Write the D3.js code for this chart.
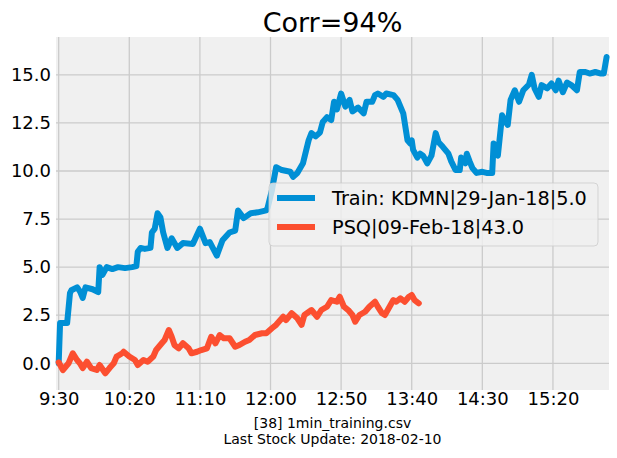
<!DOCTYPE html>
<html>
<head>
<meta charset="utf-8">
<script src="https://cdn.jsdelivr.net/npm/d3@7"></script>
<style>
  body { margin: 0; background: #ffffff; }
  text { font-family: "DejaVu Sans", sans-serif; }
</style>
</head>
<body>
<svg class="s"></svg>
<script>
// minutes after 9:30 and price change
var trainMin = [0, 1, 6, 8, 9, 13, 15, 17, 19, 24, 28, 29, 31, 34, 38, 42, 47, 52, 55, 56, 58, 61, 65, 66, 68, 70, 72, 74, 77, 80, 84, 88, 95, 100, 104, 107, 112, 116, 121, 125, 127, 131, 136, 141, 147, 148, 151, 154, 158, 164, 166, 169, 173, 177, 179, 182, 185, 187, 190, 193, 195, 197, 200, 203, 206, 208, 212, 216, 218, 222, 224, 226, 230, 232, 237, 240, 244, 247, 249, 250, 251, 254, 256, 258, 261, 264, 267, 269, 272, 276, 278, 281, 284, 285, 288, 289, 291, 293, 296, 300, 303, 307, 308, 311, 314, 316, 318, 320, 323, 326, 329, 333, 335, 337, 340, 342, 346, 349, 352, 354, 357, 360, 363, 367, 369, 373, 376, 380, 384, 386, 388];
var trainVal = [0.0, 2.1, 2.1, 3.65, 3.8, 3.95, 3.75, 3.4, 3.95, 3.85, 3.7, 5.0, 4.6, 5.0, 4.9, 5.0, 4.95, 5.0, 5.05, 5.8, 6.0, 5.95, 6.0, 6.8, 7.0, 7.8, 7.6, 6.8, 6.0, 6.5, 6.0, 6.25, 6.2, 7.0, 6.25, 6.3, 5.6, 6.4, 6.8, 6.9, 7.95, 7.55, 7.8, 7.85, 7.95, 8.1, 9.0, 10.2, 10.05, 9.96, 9.7, 9.9, 10.4, 11.6, 11.97, 11.8, 12.0, 12.55, 12.8, 12.65, 13.6, 13.2, 14.03, 13.35, 13.7, 13.1, 13.3, 13.0, 13.6, 13.6, 13.95, 14.03, 13.86, 14.03, 13.95, 13.7, 13.0, 11.6, 11.43, 11.6, 11.1, 10.7, 10.9, 10.8, 10.4, 10.8, 11.97, 11.5, 11.26, 10.9, 10.5, 10.05, 10.05, 10.7, 10.4, 10.9, 10.5, 10.15, 9.9, 9.96, 9.9, 9.9, 11.43, 10.8, 12.9, 12.6, 12.4, 13.7, 14.2, 13.6, 14.2, 14.5, 15.0, 14.3, 13.86, 14.47, 14.3, 14.55, 14.2, 14.7, 14.1, 14.6, 14.47, 14.2, 15.15, 15.15, 15.07, 15.15, 15.07, 15.07, 15.93];

var testMin = [0, 3, 7, 10, 13, 15, 17, 20, 23, 27, 29, 33, 36, 39, 41, 45, 46, 50, 54, 56, 60, 63, 67, 69, 73, 75, 78, 80, 82, 85, 88, 92, 94, 98, 101, 105, 108, 111, 114, 117, 121, 125, 128, 132, 135, 139, 144, 147, 151, 154, 159, 161, 165, 169, 172, 174, 179, 183, 186, 190, 193, 197, 199, 202, 205, 208, 210, 213, 217, 220, 224, 226, 229, 231, 235, 237, 239, 242, 245, 248, 250, 252, 255];
var testVal = [0.05, -0.35, 0.0, 0.52, 0.17, 0.0, -0.25, 0.08, -0.25, -0.35, -0.09, -0.52, -0.25, 0.0, 0.35, 0.52, 0.6, 0.35, 0.17, -0.09, 0.17, 0.08, 0.35, 0.69, 1.04, 1.21, 1.73, 1.38, 0.95, 0.78, 1.04, 0.78, 0.52, 0.6, 0.69, 0.78, 1.38, 1.04, 1.47, 1.3, 1.3, 0.86, 0.95, 1.12, 1.21, 1.47, 1.56, 1.56, 1.82, 2.0, 2.42, 2.25, 2.6, 2.34, 2.0, 2.51, 2.77, 2.42, 2.77, 2.94, 3.29, 3.2, 3.46, 2.94, 2.77, 2.51, 2.16, 2.51, 2.68, 2.94, 3.2, 2.94, 2.6, 2.51, 3.03, 3.29, 3.2, 3.38, 3.2, 3.46, 3.55, 3.29, 3.12];

var xTickMin = [0, 50, 100, 150, 200, 250, 300, 350];
var xTickLabels = ['9:30', '10:20', '11:10', '12:00', '12:50', '13:40', '14:30', '15:20'];
var yTicks = [0, 2.5, 5, 7.5, 10, 12.5, 15];

var seriesNames = ['Train: KDMN|29-Jan-18|5.0', 'PSQ|09-Feb-18|43.0'];
var seriesColors = ['#008fd5', '#fc4f30'];
var titleText = 'Corr=94%';
var footerLines = ['[38] 1min_training.csv', 'Last Stock Update: 2018-02-10'];

var w = 617;
var h = 458;
var plotL = 56, plotR = 609, plotT = 37, plotB = 390;

var svg = d3.select('.s')
            .attr('width', w)
            .attr('height', h);

var x = d3.scaleLinear()
          .domain([-1.9, 389.7])
          .range([plotL, plotR]);

var y = d3.scaleLinear()
          .domain([-1.39, 16.97])
          .range([plotB, plotT]);

svg.append('rect')
   .attr('x', plotL)
   .attr('y', plotT)
   .attr('width', plotR - plotL)
   .attr('height', plotB - plotT)
   .attr('fill', '#f0f0f0');

// grid
svg.append('g')
   .selectAll('line')
   .data(yTicks)
   .enter()
   .append('line')
   .attr('x1', plotL)
   .attr('x2', plotR)
   .attr('y1', function(d){ return y(d); })
   .attr('y2', function(d){ return y(d); })
   .attr('stroke', '#cbcbcb')
   .attr('stroke-width', 1.3);

svg.append('g')
   .selectAll('line')
   .data(xTickMin)
   .enter()
   .append('line')
   .attr('x1', function(d){ return x(d); })
   .attr('x2', function(d){ return x(d); })
   .attr('y1', plotT)
   .attr('y2', plotB)
   .attr('stroke', '#cbcbcb')
   .attr('stroke-width', 1.3);

// axes
var xAxis = d3.axisBottom(x)
              .tickValues(xTickMin)
              .tickFormat(function(d, i){ return xTickLabels[i]; })
              .tickSize(0)
              .tickPadding(2);

var yAxis = d3.axisLeft(y)
              .tickValues(yTicks)
              .tickFormat(d3.format('.1f'))
              .tickSize(0)
              .tickPadding(5);

var gx = svg.append('g')
            .attr('transform', 'translate(0,' + plotB + ')')
            .call(xAxis);
var gy = svg.append('g')
            .attr('transform', 'translate(' + plotL + ',0)')
            .call(yAxis);

[gx, gy].forEach(function(g){
  g.select('.domain').remove();
  g.selectAll('text')
   .attr('fill', '#000')
   .style('font-family', '"DejaVu Sans", sans-serif')
   .style('font-size', '18px');
});

// lines
var line = d3.line()
             .x(function(d){ return x(d[0]); })
             .y(function(d){ return y(d[1]); })
             .curve(d3.curveLinear);

var trainData = trainMin.map(function(m, i){ return [m, trainVal[i]]; });
var testData = testMin.map(function(m, i){ return [m, testVal[i]]; });

svg.append('path')
   .datum(trainData)
   .attr('d', line)
   .attr('fill', 'none')
   .attr('stroke', seriesColors[0])
   .attr('stroke-width', 6)
   .attr('stroke-linejoin', 'round')
   .attr('stroke-linecap', 'round');

svg.append('path')
   .datum(testData)
   .attr('d', line)
   .attr('fill', 'none')
   .attr('stroke', seriesColors[1])
   .attr('stroke-width', 6)
   .attr('stroke-linejoin', 'round')
   .attr('stroke-linecap', 'round');

// legend
var legend = svg.append('g')
                .attr('transform', 'translate(269,183)');

legend.append('rect')
      .attr('width', 329)
      .attr('height', 63)
      .attr('rx', 4)
      .attr('fill', '#f0f0f0')
      .attr('fill-opacity', 0.8)
      .attr('stroke', '#cccccc')
      .attr('stroke-opacity', 0.8)
      .attr('stroke-width', 1);

var items = legend.selectAll('g.item')
                  .data(seriesNames)
                  .enter()
                  .append('g')
                  .attr('class', 'item')
                  .attr('transform', function(d, i){ return 'translate(0,' + (15 + i * 29) + ')'; });

items.append('line')
     .attr('x1', 8)
     .attr('x2', 46)
     .attr('stroke', function(d, i){ return seriesColors[i]; })
     .attr('stroke-width', 6);

items.append('text')
     .attr('x', 63)
     .attr('dy', '0.36em')
     .style('font-size', '19.3px')
     .text(function(d){ return d; });

// title and footer
svg.append('text')
   .attr('x', (plotL + plotR) / 2)
   .attr('y', 31.5)
   .attr('text-anchor', 'middle')
   .style('font-size', '27px')
   .text(titleText);

svg.selectAll('text.foot')
   .data(footerLines)
   .enter()
   .append('text')
   .attr('class', 'foot')
   .attr('x', (plotL + plotR) / 2)
   .attr('y', function(d, i){ return 428 + i * 16; })
   .attr('text-anchor', 'middle')
   .style('font-size', '14px')
   .text(function(d){ return d; });
</script>
</body>
</html>
